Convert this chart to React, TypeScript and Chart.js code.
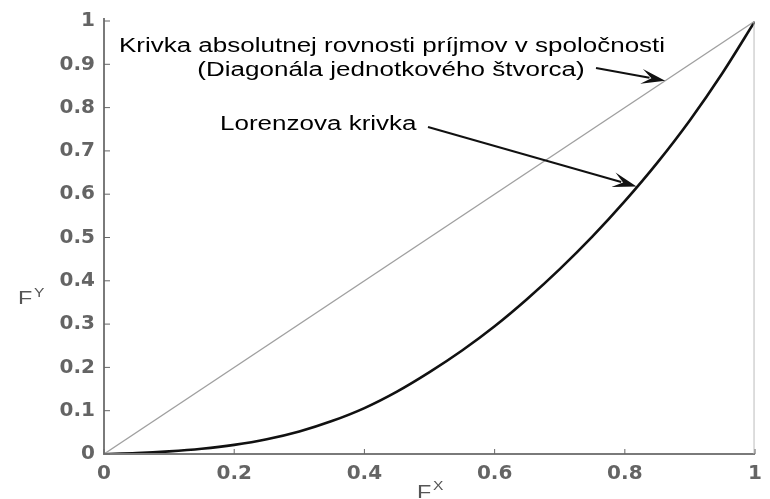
import React, { useEffect, useRef } from "react";
import { Chart, registerables } from "chart.js";

Chart.register(...registerables);

const lorenzX = [0, 0.05, 0.1, 0.15, 0.2, 0.25, 0.3, 0.35, 0.4, 0.45, 0.5, 0.55, 0.6, 0.65, 0.7, 0.75, 0.8, 0.85, 0.9, 0.95, 1];
const lorenzY = [0, 0.002, 0.006, 0.012, 0.021, 0.034, 0.052, 0.076, 0.106, 0.144, 0.189, 0.239, 0.295, 0.358, 0.427, 0.502, 0.584, 0.673, 0.771, 0.88, 1];
const diagX = [0, 1];
const diagY = [0, 1];
const yTicks = [0, 0.1, 0.2, 0.3, 0.4, 0.5, 0.6, 0.7, 0.8, 0.9, 1];
const xTicks = [0, 0.2, 0.4, 0.6, 0.8, 1];
const noteLine1 = "Krivka absolutnej rovnosti príjmov v spoločnosti";
const noteLine2 = "(Diagonála jednotkového štvorca)";
const noteLorenz = "Lorenzova krivka";

const fmt = (v: number) => (v === 0 ? "0" : v === 1 ? "1" : v.toFixed(1));

function arrow(ctx: CanvasRenderingContext2D, x1: number, y1: number, x2: number, y2: number) {
  const ang = Math.atan2(y2 - y1, x2 - x1);
  const hl = 24;
  const hw = 7.5;
  const bx = x2 - hl * Math.cos(ang);
  const by = y2 - hl * Math.sin(ang);
  ctx.save();
  ctx.strokeStyle = "#111";
  ctx.fillStyle = "#111";
  ctx.lineWidth = 2;
  ctx.beginPath();
  ctx.moveTo(x1, y1);
  ctx.lineTo(bx + 8 * Math.cos(ang), by + 8 * Math.sin(ang));
  ctx.stroke();
  ctx.beginPath();
  ctx.moveTo(x2, y2);
  ctx.lineTo(bx - hw * Math.sin(ang), by + hw * Math.cos(ang));
  ctx.lineTo(bx + 10 * Math.cos(ang), by + 10 * Math.sin(ang));
  ctx.lineTo(bx + hw * Math.sin(ang), by - hw * Math.cos(ang));
  ctx.closePath();
  ctx.fill();
  ctx.restore();
}

function stretchedText(ctx: CanvasRenderingContext2D, text: string, x: number, y: number, align: CanvasTextAlign, sx: number) {
  ctx.save();
  ctx.translate(x, y);
  ctx.scale(sx, 1);
  ctx.textAlign = align;
  ctx.fillText(text, 0, 0);
  ctx.restore();
}

const decor = {
  id: "decor",
  afterDatasetsDraw(chart: any) {
    const ctx: CanvasRenderingContext2D = chart.ctx;
    const xs = chart.scales.x;
    const ys = chart.scales.y;
    const left = xs.getPixelForValue(0);
    const right = xs.getPixelForValue(1);
    const top = ys.getPixelForValue(1);
    const bottom = ys.getPixelForValue(0);
    ctx.save();
    ctx.strokeStyle = "#7a7a7a";
    ctx.lineWidth = 2;
    ctx.beginPath();
    ctx.moveTo(left, top - 3);
    ctx.lineTo(left, bottom);
    ctx.lineTo(right, bottom);
    ctx.stroke();
    ctx.lineWidth = 1;
    ctx.strokeStyle = "#bbb";
    ctx.beginPath();
    ctx.moveTo(right - 1, top);
    ctx.lineTo(right - 1, bottom);
    ctx.stroke();
    ctx.strokeStyle = "#666";
    ctx.lineWidth = 1;
    ctx.beginPath();
    yTicks.forEach((v) => {
      const p = ys.getPixelForValue(v);
      ctx.moveTo(left, p);
      ctx.lineTo(left + 6, p);
    });
    xTicks.forEach((v) => {
      const p = xs.getPixelForValue(v);
      ctx.moveTo(p, bottom);
      ctx.lineTo(p, bottom - 5);
    });
    ctx.stroke();

    // annotations
    ctx.fillStyle = "#000";
    ctx.font = "20px 'Liberation Sans', Arial, sans-serif";
    ctx.textBaseline = "middle";
    stretchedText(ctx, noteLine1, 392, 46, "center", 1.3);
    stretchedText(ctx, noteLine2, 391, 70, "center", 1.3);
    stretchedText(ctx, noteLorenz, 220, 124, "left", 1.3);

    const d = 0.862;
    arrow(ctx, 596, 68, xs.getPixelForValue(d), ys.getPixelForValue(d));
    arrow(ctx, 428, 127, xs.getPixelForValue(0.818), ys.getPixelForValue(0.618));

    // axis titles
    ctx.fillStyle = "#555";
    ctx.textBaseline = "alphabetic";
    ctx.font = "18px 'Liberation Sans', Arial, sans-serif";
    stretchedText(ctx, "F", 18, 304, "left", 1.3);
    ctx.font = "12px 'Liberation Sans', Arial, sans-serif";
    stretchedText(ctx, "Y", 34, 297, "left", 1.3);
    ctx.font = "18px 'Liberation Sans', Arial, sans-serif";
    stretchedText(ctx, "F", 417, 498, "left", 1.3);
    ctx.font = "12px 'Liberation Sans', Arial, sans-serif";
    stretchedText(ctx, "X", 433, 490, "left", 1.3);
    ctx.restore();
  },
};

const tickFont = { family: "'DejaVu Sans', sans-serif", size: 20, weight: "bold" as const };

export default function App() {
  const ref = useRef<HTMLCanvasElement | null>(null);
  useEffect(() => {
    document.body.style.margin = "0";
    const canvas = ref.current;
    if (!canvas) return;
    const chart = new Chart(canvas, {
      type: "scatter",
      data: {
        datasets: [
          {
            label: "Diagonála",
            data: diagX.map((x, i) => ({ x, y: diagY[i] })),
            showLine: true,
            borderColor: "#a0a0a0",
            borderWidth: 1.3,
            pointRadius: 0,
          },
          {
            label: "Lorenzova krivka",
            data: lorenzX.map((x, i) => ({ x, y: lorenzY[i] })),
            showLine: true,
            borderColor: "#111",
            borderWidth: 2.6,
            pointRadius: 0,
            cubicInterpolationMode: "monotone",
          },
        ],
      },
      options: {
        animation: false,
        responsive: false,
        maintainAspectRatio: false,
        layout: { padding: { top: 19, right: 4, left: 0, bottom: 0 } },
        plugins: { legend: { display: false }, tooltip: { enabled: false } },
        scales: {
          x: {
            type: "linear",
            min: 0,
            max: 1,
            afterFit: (s: any) => {
              s.height = 45;
            },
            afterBuildTicks: (s: any) => {
              s.ticks = xTicks.map((v) => ({ value: v }));
            },
            grid: { display: false, drawTicks: false },
            border: { display: false },
            ticks: {
              padding: 8,
              color: "#646464",
              font: tickFont,
              maxRotation: 0,
              autoSkip: false,
              callback: (v: any) => fmt(Number(v)),
            },
          },
          y: {
            type: "linear",
            min: 0,
            max: 1,
            afterFit: (s: any) => {
              s.width = 104;
            },
            afterBuildTicks: (s: any) => {
              s.ticks = yTicks.map((v) => ({ value: v }));
            },
            grid: { display: false, drawTicks: false },
            border: { display: false },
            ticks: {
              padding: 9,
              color: "#646464",
              font: tickFont,
              autoSkip: false,
              callback: (v: any) => fmt(Number(v)),
            },
          },
        },
      },
      plugins: [decor],
    });
    return () => chart.destroy();
  }, []);
  return (
    <div style={{ position: "relative", width: 770, height: 499 }}>
      <canvas ref={ref} width={770} height={499} style={{ width: 770, height: 499, display: "block" }} />
    </div>
  );
}
